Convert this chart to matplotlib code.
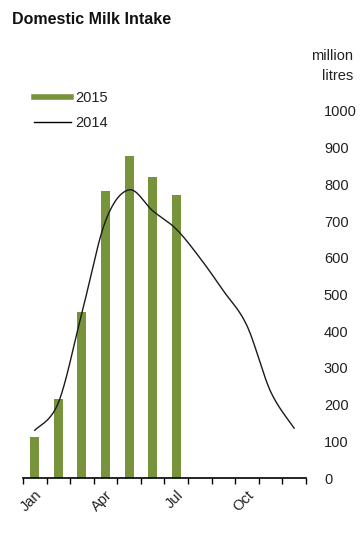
import numpy as np
import matplotlib
matplotlib.use("Agg")
import matplotlib.pyplot as plt
from matplotlib.lines import Line2D

plt.rcParams['font.family'] = ['Liberation Sans', 'DejaVu Sans']

months = ["Jan", "Feb", "Mar", "Apr", "May", "Jun", "Jul", "Aug", "Sep", "Oct", "Nov", "Dec"]
tick_labels = ["Jan", "", "", "Apr", "", "", "Jul", "", "", "Oct", "", ""]
intake_2015 = [112, 215, 452, 782, 877, 820, 771]
intake_2014 = [130, 205, 450, 700, 785, 728, 678, 600, 510, 415, 236, 136]
yticks = [0, 100, 200, 300, 400, 500, 600, 700, 800, 900, 1000]


def smooth(xs, ys, n=30):
    # Excel-style smoothed line (Bezier with Catmull-Rom control points)
    xs = np.asarray(xs, float); ys = np.asarray(ys, float)
    px, py = [], []
    for i in range(len(xs) - 1):
        x0, y0 = (xs[i - 1], ys[i - 1]) if i > 0 else (xs[i], ys[i])
        x1, y1 = xs[i], ys[i]
        x2, y2 = xs[i + 1], ys[i + 1]
        x3, y3 = (xs[i + 2], ys[i + 2]) if i + 2 < len(xs) else (x2, y2)
        c1x, c1y = x1 + (x2 - x0) / 6, y1 + (y2 - y0) / 6
        c2x, c2y = x2 - (x3 - x1) / 6, y2 - (y3 - y1) / 6
        t = np.linspace(0, 1, n)
        bx = (1-t)**3*x1 + 3*(1-t)**2*t*c1x + 3*(1-t)*t**2*c2x + t**3*x2
        by = (1-t)**3*y1 + 3*(1-t)**2*t*c1y + 3*(1-t)*t**2*c2y + t**3*y2
        px.extend(bx); py.extend(by)
    return np.array(px), np.array(py)


fig = plt.figure(figsize=(3.62, 5.49), dpi=100)
ax = fig.add_axes([0.0635, 0.1293, 0.7815, 0.6687])

x = np.arange(len(months))
green = '#77933C'
ax.bar(x[:len(intake_2015)], intake_2015, width=0.38, color=green, zorder=2)
sx, sy = smooth(x, intake_2014)
ax.plot(sx, sy, color='#1a1a1a', lw=1.0, zorder=3)

ax.set_xlim(-0.5, len(months) - 0.5)
ax.set_ylim(0, 1000)

for s in ['left', 'top', 'right']:
    ax.spines[s].set_visible(False)
ax.spines['bottom'].set_color('black')
ax.spines['bottom'].set_linewidth(1.2)

ax.set_xticks(np.arange(len(months) + 1) - 0.5)
ax.set_xticklabels([])
ax.tick_params(axis='x', which='major', direction='out', length=4, width=1.0, color='black')
ax.set_xticks(x, minor=True)
ax.set_xticklabels(tick_labels, minor=True, rotation=45, ha='right', va='top',
                   rotation_mode='anchor', fontsize=10.5, color='#222222')
ax.tick_params(axis='x', which='minor', length=0, pad=7)

ax.yaxis.tick_right()
ax.set_yticks(yticks)
ax.set_yticklabels([str(v) for v in yticks], fontsize=10.5, color='#222222', ha='left')
ax.tick_params(axis='y', length=0, pad=13)

fig.text(12 / 362, 1 - 20 / 549, "Domestic Milk Intake", fontsize=11.5, fontweight='bold',
         ha='left', va='center', color='#111111')
fig.text(353 / 362, 1 - 56 / 549, "million", fontsize=10.5, ha='right', va='center', color='#222222')
fig.text(353 / 362, 1 - 76 / 549, "litres", fontsize=10.5, ha='right', va='center', color='#222222')

handles = [Line2D([0], [0], color=green, lw=4), Line2D([0], [0], color='black', lw=1)]
fig.legend(handles, ["2015", "2014"], loc='upper left', bbox_to_anchor=(21 / 362, 1 - 78 / 549),
           frameon=False, fontsize=10.5, handlelength=2.55, handletextpad=0.25, labelspacing=0.75,
           labelcolor='#222222')

fig.savefig("out.png", dpi=100)
